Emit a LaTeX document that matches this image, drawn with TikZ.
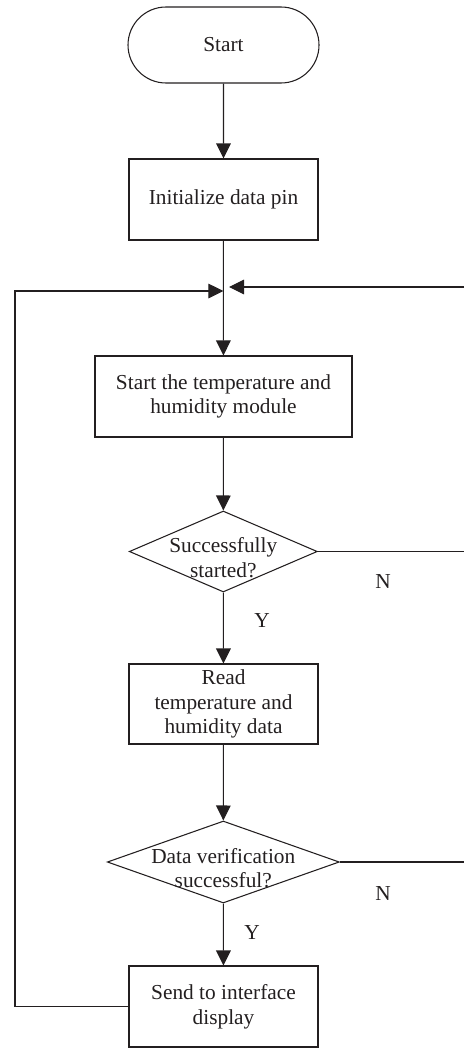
\documentclass[tikz,border=0pt]{standalone}
\usepackage{fontspec}
\setmainfont{Liberation Serif}
\usetikzlibrary{arrows.meta,shapes.geometric,shapes.misc}
\definecolor{ink}{HTML}{231F20}
\begin{document}
\begin{tikzpicture}[x=0.75pt,y=-0.75pt,
  font=\fontsize{16pt}{18.5pt}\selectfont,
  every node/.style={text=ink},
  line/.style={draw=ink,line width=0.8pt},
  flow/.style={line,-{Triangle[length=11.25pt,width=11pt]}},
  terminal/.style={line,rounded rectangle,minimum width=143.25pt,minimum height=57pt,inner sep=0pt},
  procbox/.style={line,rectangle,minimum width=141.75pt,minimum height=60.75pt,inner sep=0pt,align=center},
  decision/.style={line,diamond,inner sep=0pt},
  tag/.style={inner sep=0pt}
]
\useasboundingbox (0,0) rectangle (464,1049);

% main chain of steps
\node[terminal] (start) at (223.5,45) {Start};
\node[procbox] (init) at (223.5,199.5) {Initialize data pin};
\coordinate (join) at (223.3,289);
\node[procbox,minimum width=192.75pt] (module) at (223.5,396.5) {Start the temperature and\\humidity module};
\node[decision,minimum width=141pt,minimum height=60.75pt,
      label={[align=center,text=ink,yshift=-4.5pt]center:Successfully\\started?}] (ok1) at (223.3,551.5) {};
\node[procbox,minimum height=60pt] (read) at (223.5,704) {Read\\temperature and\\humidity data};
\node[decision,minimum width=174pt,minimum height=61.5pt,
      label={[align=center,text=ink,yshift=-4.5pt]center:Data verification\\successful?}] (ok2) at (223.3,862) {};
\node[procbox] (send) at (223.5,1006.5) {Send to interface\\display};

% branch labels
\node[tag] (y1) at (262,621) {Y};
\node[tag] (n1) at (383,582) {N};
\node[tag] (y2) at (252,933) {Y};
\node[tag] (n2) at (383,894) {N};

% loop-back points
\coordinate (lefttop) at (15,291);
\coordinate (leftbot) at (15,1006.5);
\coordinate (jl) at (223.3,291);
\coordinate (jr) at (229,287);
\coordinate (rin) at (464,287);
\coordinate (r1) at (464,551.5);
\coordinate (r2) at (464,862);

% connectors
\draw[flow] (start) -- (init);
\draw[line] (init) -- (join);
\draw[flow] (join) -- (module);
\draw[flow] (module) -- (ok1);
\draw[flow] (ok1) -- (read);
\draw[flow] (read) -- (ok2);
\draw[flow] (ok2) -- (send);
\draw[line] (ok1.east) -- (r1);
\draw[line] (ok2.east) -- (r2);
\draw[flow] (rin) -- (jr);
\draw[flow] (send.west) -- (leftbot) -- (lefttop) -- (jl);
\end{tikzpicture}
\end{document}
